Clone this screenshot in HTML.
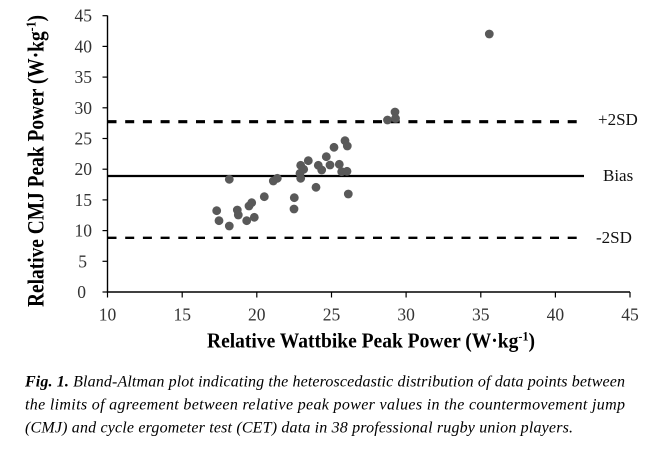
<!DOCTYPE html>
<html>
<head>
<meta charset="utf-8">
<style>
  html, body { margin:0; padding:0; background:#fff; }
  body { width:650px; height:456px; overflow:hidden; }
  svg { display:block; }
</style>
</head>
<body>
<svg width="650" height="456" viewBox="0 0 650 456" xmlns="http://www.w3.org/2000/svg">
  <rect x="0" y="0" width="650" height="456" fill="#fff"/>

  <!-- axes -->
  <line x1="107.5" y1="15.5" x2="107.5" y2="292.6" stroke="#000" stroke-width="1.4"/>
  <line x1="106.8" y1="292" x2="630" y2="292" stroke="#000" stroke-width="1.4"/>

  <!-- y ticks -->
  <g stroke="#000" stroke-width="1.2">
    <line x1="102.5" y1="292" x2="107.5" y2="292"/>
    <line x1="102.5" y1="261.3" x2="107.5" y2="261.3"/>
    <line x1="102.5" y1="230.6" x2="107.5" y2="230.6"/>
    <line x1="102.5" y1="199.9" x2="107.5" y2="199.9"/>
    <line x1="102.5" y1="169.2" x2="107.5" y2="169.2"/>
    <line x1="102.5" y1="138.5" x2="107.5" y2="138.5"/>
    <line x1="102.5" y1="107.8" x2="107.5" y2="107.8"/>
    <line x1="102.5" y1="77.1" x2="107.5" y2="77.1"/>
    <line x1="102.5" y1="46.4" x2="107.5" y2="46.4"/>
    <line x1="102.5" y1="15.7" x2="107.5" y2="15.7"/>
  </g>
  <!-- x ticks -->
  <g stroke="#000" stroke-width="1.2">
    <line x1="107.5" y1="292" x2="107.5" y2="297.5"/>
    <line x1="182.2" y1="292" x2="182.2" y2="297.5"/>
    <line x1="256.8" y1="292" x2="256.8" y2="297.5"/>
    <line x1="331.5" y1="292" x2="331.5" y2="297.5"/>
    <line x1="406.1" y1="292" x2="406.1" y2="297.5"/>
    <line x1="480.8" y1="292" x2="480.8" y2="297.5"/>
    <line x1="555.4" y1="292" x2="555.4" y2="297.5"/>
    <line x1="630" y1="292" x2="630" y2="297.5"/>
  </g>

  <!-- y tick labels -->
  <g font-family="Liberation Serif, serif" font-size="17.5" fill="#333" text-anchor="end">
    <text x="86" y="298">0</text>
    <text x="87" y="267.3">5</text>
    <text x="92" y="236.6">10</text>
    <text x="92" y="205.9">15</text>
    <text x="92" y="175.2">20</text>
    <text x="92" y="144.5">25</text>
    <text x="92" y="113.8">30</text>
    <text x="92" y="83.1">35</text>
    <text x="92" y="52.4">40</text>
    <text x="92" y="21.7">45</text>
  </g>
  <!-- x tick labels -->
  <g font-family="Liberation Serif, serif" font-size="17.5" fill="#333" text-anchor="middle">
    <text x="107.5" y="320.5">10</text>
    <text x="182.2" y="320.5">15</text>
    <text x="256.8" y="320.5">20</text>
    <text x="331.5" y="320.5">25</text>
    <text x="406.1" y="320.5">30</text>
    <text x="480.8" y="320.5">35</text>
    <text x="555.4" y="320.5">40</text>
    <text x="630" y="320.5">45</text>
  </g>

  <!-- limit lines -->
  <line x1="107.5" y1="121.7" x2="584" y2="121.7" stroke="#000" stroke-width="3.2" stroke-dasharray="9 8.7"/>
  <line x1="107.5" y1="176" x2="584" y2="176" stroke="#000" stroke-width="2.3"/>
  <line x1="107.5" y1="237.8" x2="584" y2="237.8" stroke="#000" stroke-width="2.4" stroke-dasharray="9 8.7"/>

  <g font-family="Liberation Serif, serif" font-size="17" fill="#111">
    <text x="598" y="125">+2SD</text>
    <text x="603" y="181">Bias</text>
    <text x="596" y="243">-2SD</text>
  </g>

  <!-- data points -->
  <g fill="#595959">
    <circle cx="489.3" cy="34" r="4.4"/>
    <circle cx="387.5" cy="120" r="4.4"/>
    <circle cx="395" cy="112" r="4.4"/>
    <circle cx="395.5" cy="118.5" r="4.4"/>
    <circle cx="345" cy="140.7" r="4.4"/>
    <circle cx="347.3" cy="146" r="4.4"/>
    <circle cx="334" cy="147.3" r="4.4"/>
    <circle cx="326.3" cy="156.7" r="4.4"/>
    <circle cx="308.3" cy="160.7" r="4.4"/>
    <circle cx="300.7" cy="165.3" r="4.4"/>
    <circle cx="303.7" cy="169.3" r="4.4"/>
    <circle cx="300" cy="173.3" r="4.4"/>
    <circle cx="300.7" cy="178.3" r="4.4"/>
    <circle cx="318.3" cy="165.3" r="4.4"/>
    <circle cx="321.7" cy="170" r="4.4"/>
    <circle cx="330" cy="165" r="4.4"/>
    <circle cx="339.3" cy="164.3" r="4.4"/>
    <circle cx="341.7" cy="171.7" r="4.4"/>
    <circle cx="347" cy="171.3" r="4.4"/>
    <circle cx="316" cy="187.3" r="4.4"/>
    <circle cx="348.3" cy="194" r="4.4"/>
    <circle cx="294.3" cy="197.7" r="4.4"/>
    <circle cx="294" cy="209" r="4.4"/>
    <circle cx="229.3" cy="179.3" r="4.4"/>
    <circle cx="273.3" cy="181" r="4.4"/>
    <circle cx="277.3" cy="178.3" r="4.4"/>
    <circle cx="264.3" cy="196.7" r="4.4"/>
    <circle cx="251.7" cy="202.7" r="4.4"/>
    <circle cx="249" cy="206" r="4.4"/>
    <circle cx="216.7" cy="210.7" r="4.4"/>
    <circle cx="237.3" cy="210" r="4.4"/>
    <circle cx="238.3" cy="215" r="4.4"/>
    <circle cx="219" cy="220.7" r="4.4"/>
    <circle cx="229.3" cy="226" r="4.4"/>
    <circle cx="246.7" cy="220.7" r="4.4"/>
    <circle cx="254.3" cy="217.3" r="4.4"/>
  </g>

  <!-- axis titles -->
  <text transform="translate(43.5,161) rotate(-90)" text-anchor="middle"
        font-family="Liberation Serif, serif" font-weight="bold" font-size="23" fill="#000"
        textLength="292" lengthAdjust="spacingAndGlyphs">Relative CMJ Peak Power (W·kg<tspan font-size="14" dy="-8">-1</tspan><tspan dy="8">)</tspan></text>

  <text x="207" y="347.5"
        font-family="Liberation Serif, serif" font-weight="bold" font-size="21" fill="#000"
        textLength="328" lengthAdjust="spacingAndGlyphs">Relative Wattbike Peak Power (W·kg<tspan font-size="13" dy="-7">-1</tspan><tspan dy="7">)</tspan></text>

  <!-- caption -->
  <g font-family="Liberation Serif, serif" font-style="italic" font-size="16" fill="#000">
    <text x="25" y="386.7" textLength="600" lengthAdjust="spacing"><tspan font-weight="bold">Fig. 1.</tspan> Bland-Altman plot indicating the heteroscedastic distribution of data points between</text>
    <text x="25" y="409.3" textLength="600" lengthAdjust="spacing">the limits of agreement between relative peak power values in the countermovement jump</text>
    <text x="25" y="432.5" textLength="548" lengthAdjust="spacing">(CMJ) and cycle ergometer test (CET) data in 38 professional rugby union players.</text>
  </g>
</svg>
</body>
</html>
